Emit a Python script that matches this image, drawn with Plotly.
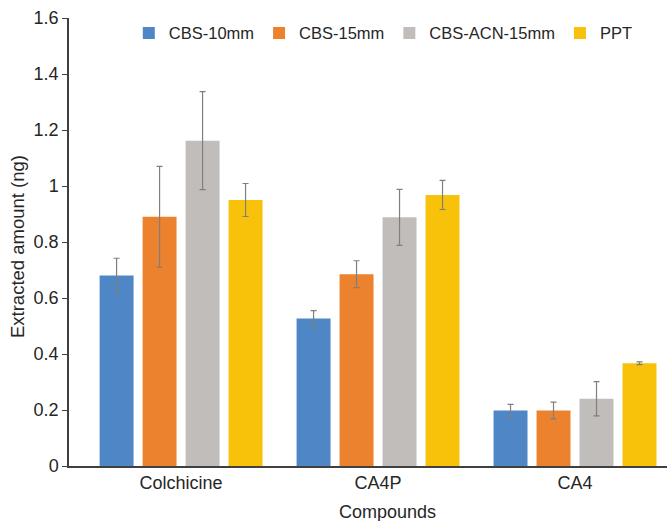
import plotly.graph_objects as go

categories = ["Colchicine", "CA4P", "CA4"]
series_names = ["CBS-10mm", "CBS-15mm", "CBS-ACN-15mm", "PPT"]
values = {
    "CBS-10mm": [0.68, 0.527, 0.198],
    "CBS-15mm": [0.890, 0.685, 0.198],
    "CBS-ACN-15mm": [1.162, 0.888, 0.240],
    "PPT": [0.950, 0.968, 0.367],
}
errors = {
    "CBS-10mm": [0.062, 0.028, 0.022],
    "CBS-15mm": [0.180, 0.048, 0.030],
    "CBS-ACN-15mm": [0.175, 0.100, 0.061],
    "PPT": [0.059, 0.052, 0.005],
}
colors = {
    "CBS-10mm": "#4F86C6",
    "CBS-15mm": "#ED822E",
    "CBS-ACN-15mm": "#C1BDBB",
    "PPT": "#F9C20A",
}
y_ticks = [0, 0.2, 0.4, 0.6, 0.8, 1.0, 1.2, 1.4, 1.6]
y_tick_labels = ["0", "0.2", "0.4", "0.6", "0.8", "1", "1.2", "1.4", "1.6"]

FONT = "Liberation Sans, Arial, sans-serif"
TEXT = "#262626"

fig = go.Figure()
for name in series_names:
    fig.add_trace(go.Bar(
        name=name,
        x=categories,
        y=values[name],
        marker=dict(color=colors[name], line=dict(width=0)),
        error_y=dict(type="data", array=errors[name], visible=True,
                     color="#7F7F7F", thickness=1.2, width=3),
    ))

fig.update_layout(
    width=667, height=521, autosize=False,
    margin=dict(l=69, r=0, t=18, b=55, autoexpand=False),
    paper_bgcolor="white", plot_bgcolor="white",
    barmode="group", bargap=0.127, bargroupgap=0.21,
    font=dict(family=FONT, color=TEXT, size=18),
    showlegend=True,
    legend=dict(orientation="h", x=0.1, y=0.966, xanchor="left", yanchor="middle",
                font=dict(size=16.5, family=FONT, color=TEXT),
                bgcolor="rgba(0,0,0,0)", itemwidth=30, traceorder="normal"),
    xaxis=dict(range=[-0.569, 2.467], showline=True, linecolor="#404040", linewidth=1.5,
               ticks="", showgrid=False, zeroline=False, automargin=False,
               tickfont=dict(size=18, family=FONT, color=TEXT)),
    yaxis=dict(range=[0, 1.6], tickvals=y_ticks, ticktext=y_tick_labels,
               showline=True, linecolor="#404040", linewidth=1.5,
               ticks="outside", ticklen=5, tickcolor="#404040", automargin=False,
               showgrid=False, zeroline=False,
               tickfont=dict(size=18, family=FONT, color=TEXT)),
    annotations=[
        dict(text="Compounds", xref="paper", yref="paper", x=0.533, y=-0.102, yanchor="middle",
             xanchor="center", showarrow=False, font=dict(size=18, family=FONT, color=TEXT)),
        dict(text="Extracted amount (ng)", xref="paper", yref="paper", x=-0.086, y=0.49,
             xanchor="center", yanchor="middle", textangle=-90, showarrow=False,
             font=dict(size=18.5, family=FONT, color=TEXT)),
    ],
)

fig.write_html("out.html",
               config={"displayModeBar": False},
               post_script="document.body.style.margin='0';document.body.style.overflow='hidden';")
